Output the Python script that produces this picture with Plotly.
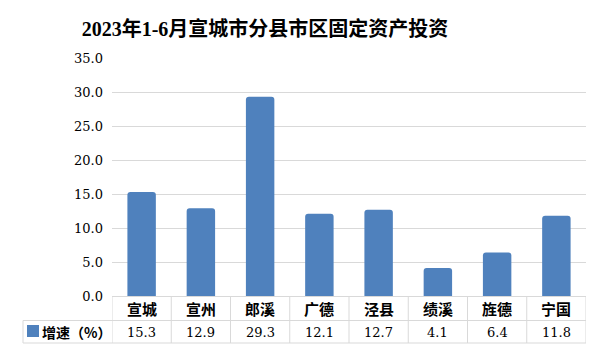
import plotly.graph_objects as go

# Data
categories = ["宣城", "宣州", "郎溪", "广德", "泾县", "绩溪", "旌德", "宁国"]
growth = [15.3, 12.9, 29.3, 12.1, 12.7, 4.1, 6.4, 11.8]
series_name = "增速（%）"
title_text = "2023年1-6月宣城市分县市区固定资产投资"
y_ticks = [0, 5, 10, 15, 20, 25, 30, 35]

BAR_COLOR = "#4f81bd"
GRID = "#d9d9d9"
NUM_FONT = "DejaVu Serif, Liberation Serif, serif"
CJK_FONT = "Noto Sans CJK SC, sans-serif"

# Plot area geometry (pixels) for the table layout under the axis
W, H = 600, 358
L, R, T, B = 112, 14, 58, 62
plot_h = H - T - B
plot_w = W - L - R


def py(pix):
    """Pixel row -> paper y."""
    return (H - B - pix) / plot_h


def px(pix):
    """Pixel column -> paper x."""
    return (pix - L) / plot_w


fig = go.Figure(
    go.Bar(
        x=categories,
        y=growth,
        marker=dict(color=BAR_COLOR, cornerradius=3, line=dict(width=0)),
        width=0.48,
        hoverinfo="x+y",
    )
)

row1_mid, row_split, row2_mid, table_bottom = 308, 320.5, 332, 343
legend_left = 23

shapes = []
annotations = []

# Table: vertical separators at category boundaries
for i in range(len(categories) + 1):
    shapes.append(dict(type="line", xref="x", yref="paper",
                       x0=i - 0.5, x1=i - 0.5, y0=0, y1=py(table_bottom),
                       line=dict(color=GRID, width=1)))
# Horizontal rules
for yy in (row_split, table_bottom):
    shapes.append(dict(type="line", xref="paper", yref="paper",
                       x0=px(legend_left), x1=1, y0=py(yy), y1=py(yy),
                       line=dict(color=GRID, width=1)))
# Left edge of the series label cell
shapes.append(dict(type="line", xref="paper", yref="paper",
                   x0=px(legend_left), x1=px(legend_left),
                   y0=py(row_split), y1=py(table_bottom),
                   line=dict(color=GRID, width=1)))
# Legend key
shapes.append(dict(type="rect", xref="paper", yref="paper",
                   x0=px(27), x1=px(39), y0=py(325), y1=py(337),
                   fillcolor=BAR_COLOR, line=dict(width=0)))

# Table text: category header row and value row
for cat, val in zip(categories, growth):
    annotations.append(dict(x=cat, xref="x", y=py(row1_mid), yref="paper",
                            text=f"<b>{cat}</b>", showarrow=False, xanchor="center", yanchor="middle",
                            font=dict(family=CJK_FONT, size=15, color="#000")))
    annotations.append(dict(x=cat, xref="x", y=py(row2_mid), yref="paper",
                            text=f"{val:.1f}", showarrow=False, xanchor="center", yanchor="middle",
                            font=dict(family=NUM_FONT, size=13, color="#000")))
annotations.append(dict(x=px(40), xref="paper", y=py(row2_mid), yref="paper",
                        text=f"<b>{series_name}</b>", showarrow=False, xanchor="left", yanchor="middle",
                        font=dict(family=CJK_FONT, size=14, color="#000")))

fig.update_layout(
    width=W, height=H,
    margin=dict(l=L, r=R, t=T, b=B),
    paper_bgcolor="white",
    plot_bgcolor="white",
    showlegend=False,
    bargap=0.52,
    title=dict(text=f"<b>{title_text}</b>", x=265 / W, xanchor="center",
               y=1 - 29 / H, yanchor="middle",
               font=dict(family="Liberation Serif, Noto Sans CJK SC, serif", size=20, color="#000")),
    xaxis=dict(range=[-0.5, len(categories) - 0.5], showticklabels=False,
               showgrid=False, zeroline=False, showline=True, linecolor=GRID, linewidth=1,
               fixedrange=True),
    yaxis=dict(range=[0, 35], tickvals=y_ticks, tickformat=".1f",
               showgrid=True, gridcolor=GRID, gridwidth=1, zeroline=False,
               showline=False, ticks="", ticklabelstandoff=8,
               tickfont=dict(family=NUM_FONT, size=13, color="#000"),
               fixedrange=True),
    shapes=shapes,
    annotations=annotations,
)

fig.write_html("out.html")
